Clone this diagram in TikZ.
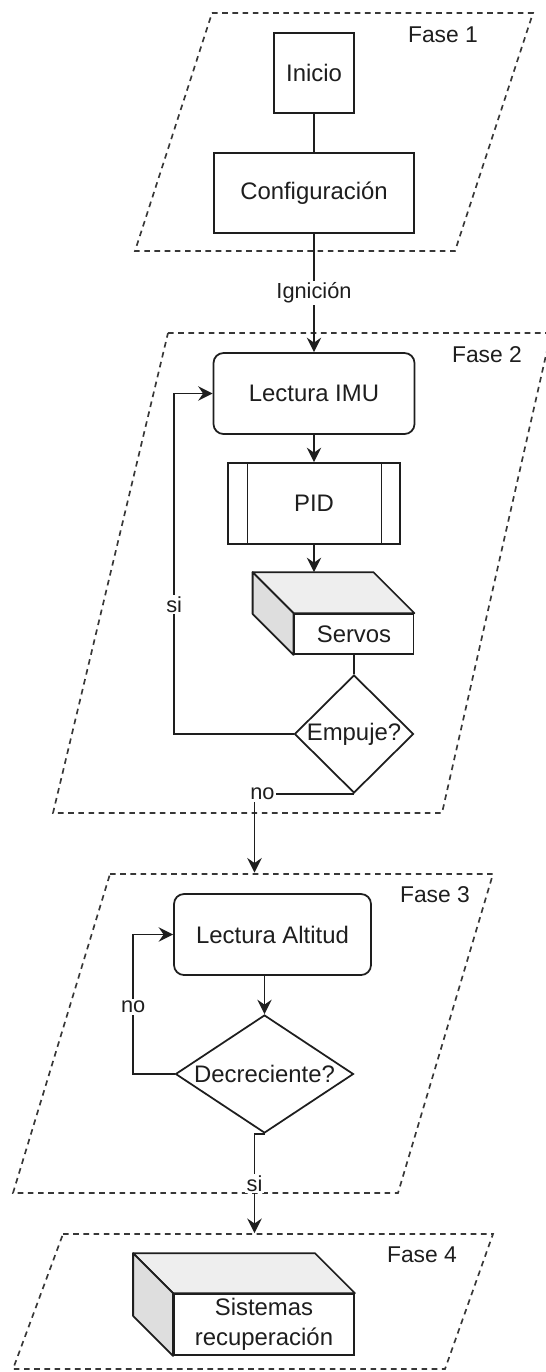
\documentclass[tikz,border=0pt]{standalone}
\usepackage{fontspec}
\setmainfont{Liberation Sans}
\usetikzlibrary{arrows.meta,shapes.geometric}
\definecolor{inkGray}{RGB}{30,30,30}
\definecolor{frameGray}{RGB}{55,55,55}
\definecolor{cubeTop}{RGB}{238,238,238}
\definecolor{cubeSide}{RGB}{222,222,222}

\begin{document}
\begin{tikzpicture}[x=1cm,y=1cm,
  phase/.style={draw=frameGray,line width=0.95pt,dash pattern=on 3.2pt off 2.6pt},
  phasename/.style={text=inkGray,font=\fontsize{13}{15}\selectfont},
  box/.style={draw=inkGray,fill=white,line width=1pt,text=inkGray,font=\fontsize{13.6}{17}\selectfont,inner sep=0pt,align=center},
  roundbox/.style={box,rounded corners=0.2cm},
  subproc/.style={box,path picture={
    \draw[inkGray,line width=1pt] ([xshift=0.39cm]path picture bounding box.north west) -- ([xshift=0.39cm]path picture bounding box.south west);
    \draw[inkGray,line width=1pt] ([xshift=-0.37cm]path picture bounding box.north east) -- ([xshift=-0.37cm]path picture bounding box.south east);}},
  decision/.style={box,diamond},
  cubeface/.style={draw=inkGray,line width=1pt,line join=round},
  link/.style={draw=inkGray,line width=1pt},
  arr/.style={link,-{Stealth[length=2.9mm,width=2.9mm,inset=1mm]}},
  lbl/.style={fill=white,text=inkGray,font=\fontsize{12.4}{14}\selectfont,inner sep=1pt}]
\clip (0,0) rectangle (10.92,-27.44);

% frames of the four phases
\draw[phase] (4.24,-0.26) -- (10.66,-0.26) -- (9.10,-5.02) -- (2.70,-5.02) -- cycle;
\draw[phase] (3.36,-6.66) -- (11.02,-6.66) -- (8.84,-16.26) -- (1.06,-16.26) -- cycle;
\draw[phase] (2.20,-17.48) -- (9.86,-17.48) -- (7.96,-23.86) -- (0.26,-23.86) -- cycle;
\draw[phase] (1.26,-24.68) -- (9.86,-24.68) -- (8.90,-27.38) -- (0.26,-27.38) -- cycle;
\node[phasename] (fase1) at (8.86,-0.70) {Fase 1};
\node[phasename] (fase2) at (9.74,-7.10) {Fase 2};
\node[phasename] (fase3) at (8.70,-17.90) {Fase 3};
\node[phasename] (fase4) at (8.44,-25.10) {Fase 4};

% Fase 1
\node[box,minimum width=1.6cm,minimum height=1.6cm] (inicio) at (6.28,-1.46) {Inicio};
\node[box,minimum width=4.0cm,minimum height=1.6cm] (config) at (6.28,-3.86) {Configuración};

% Fase 2
\node[roundbox,minimum width=4.02cm,minimum height=1.62cm] (imu) at (6.28,-7.87) {Lectura IMU};
\node[subproc,minimum width=3.44cm,minimum height=1.62cm] (pid) at (6.28,-10.07) {PID};
\node[box,minimum width=2.38cm,minimum height=0.80cm] (servos) at (7.08,-12.68) {Servos};
\filldraw[cubeface,fill=cubeTop] (servos.north west) -- ++(-0.82,0.82) -- ([shift={(-0.82,0.82)}]servos.north east) -- (servos.north east) -- cycle;
\filldraw[cubeface,fill=cubeSide] (servos.north west) -- ++(-0.82,0.82) -- ([shift={(-0.82,0.82)}]servos.south west) -- (servos.south west) -- cycle;
\coordinate (servostop) at ([yshift=0.82cm]servos.north);
\node[decision,minimum width=2.38cm,minimum height=2.36cm] (empuje) at (7.08,-14.68) {Empuje?};
\coordinate (f3in) at (5.09,-17.45);

% Fase 3
\node[roundbox,minimum width=3.94cm,minimum height=1.62cm] (altitud) at (5.45,-18.69) {Lectura Altitud};
\node[decision,aspect=1.5,minimum width=3.56cm,minimum height=2.36cm] (decrec) at (5.29,-21.48) {Decreciente?};
\coordinate (f4in) at (5.09,-24.66);

% Fase 4
\node[box,minimum width=3.60cm,minimum height=1.22cm] (recup) at (5.28,-26.49) {Sistemas\\recuperación};
\filldraw[cubeface,fill=cubeTop] (recup.north west) -- ++(-0.80,0.80) -- ([shift={(-0.80,0.80)}]recup.north east) -- (recup.north east) -- cycle;
\filldraw[cubeface,fill=cubeSide] (recup.north west) -- ++(-0.80,0.80) -- ([shift={(-0.80,0.80)}]recup.south west) -- (recup.south west) -- cycle;

% connectors
\draw[link] (inicio) -- (config);
\draw[arr] (config) -- node[lbl]{Ignición} (imu);
\draw[arr] (imu) -- (pid);
\draw[arr] (pid.south) -- (pid.south |- servostop);
\draw[link] (servos) -- (empuje);
\draw[arr] (empuje.west) -- ++(-2.39,0) |- node[lbl,pos=0.19]{si} (imu.west);
\draw[arr] (empuje.south) -| node[lbl,pos=0.46]{no} (f3in);
\draw[arr] (altitud.south -| decrec.north) -- (decrec.north);
\draw[arr] (decrec.west) -- ++(-0.83,0) |- node[lbl,pos=0.24]{no} (altitud.west);
\draw[arr] (decrec.south) -| node[lbl,pos=0.75]{si} (f4in);
\end{tikzpicture}
\end{document}
